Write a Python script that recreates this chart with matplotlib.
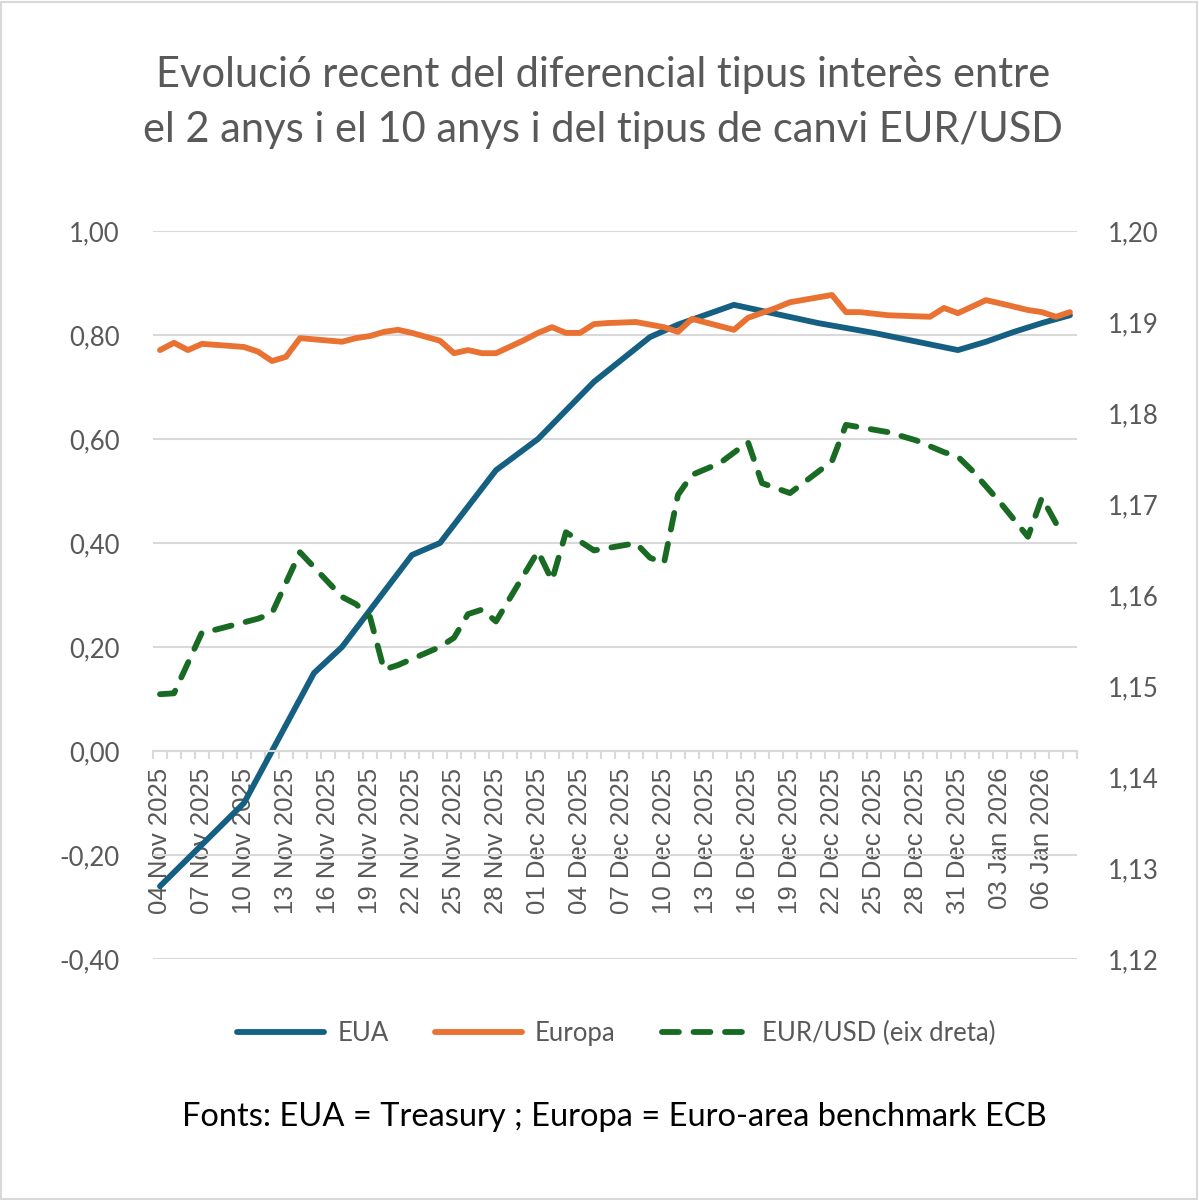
import matplotlib
matplotlib.use("Agg")
import matplotlib.pyplot as plt
import matplotlib.dates as mdates
import matplotlib.ticker as mticker
from matplotlib.patches import Rectangle
import pandas as pd

# data
eua_dates = ["2025-11-04", "2025-11-07", "2025-11-10", "2025-11-15", "2025-11-17",
             "2025-11-22", "2025-11-24", "2025-11-28", "2025-12-01", "2025-12-05",
             "2025-12-09", "2025-12-11", "2025-12-15", "2025-12-21", "2025-12-25",
             "2025-12-31", "2026-01-02", "2026-01-04", "2026-01-06", "2026-01-08"]
eua_vals = [-0.26, -0.18, -0.10, 0.15, 0.20,
            0.377, 0.40, 0.54, 0.60, 0.71,
            0.796, 0.82, 0.858, 0.823, 0.804,
            0.771, 0.787, 0.806, 0.823, 0.838]

eur_days = [0, 1, 2, 3, 6, 7, 8, 9, 10, 13, 14, 15, 16, 17, 18, 20, 21, 22, 23, 24,
            26, 27, 28, 29, 30, 31, 32, 34, 36, 37, 38, 41, 42, 44, 45, 48, 49, 50,
            52, 55, 56, 57, 59, 60, 62, 63, 64, 65]
eur_vals = [0.771, 0.785, 0.771, 0.783, 0.777, 0.768, 0.750, 0.758, 0.794, 0.787,
            0.794, 0.798, 0.806, 0.810, 0.804, 0.789, 0.765, 0.771, 0.765, 0.765,
            0.790, 0.804, 0.815, 0.804, 0.804, 0.821, 0.823, 0.825, 0.815, 0.806,
            0.831, 0.810, 0.833, 0.852, 0.863, 0.877, 0.844, 0.844,
            0.838, 0.835, 0.852, 0.842, 0.867, 0.861, 0.848, 0.844, 0.835, 0.844]

fx_days = [0, 1, 3, 4, 7, 8, 10, 13, 14, 15, 16, 17, 20, 21, 22, 23, 24, 27, 28, 29,
           31, 34, 35, 36, 37, 38, 40, 42, 43, 45, 48, 49, 52, 54, 56, 57, 58, 60,
           62, 63, 64]
fx_vals = [1.1491, 1.1492, 1.1559, 1.1562, 1.1574, 1.1580, 1.1647, 1.1598, 1.1590,
           1.1576, 1.1518, 1.1523, 1.1543, 1.1553, 1.1579, 1.1584, 1.1571, 1.1648,
           1.1616, 1.1669, 1.1649, 1.1657, 1.1641, 1.1635, 1.1710, 1.1732, 1.1745,
           1.1768, 1.1723, 1.1712, 1.1747, 1.1787, 1.1779, 1.1770, 1.1757, 1.1752,
           1.1737, 1.1702, 1.1664, 1.1707, 1.1679]

start = pd.Timestamp("2025-11-04")
end = pd.Timestamp("2026-01-08")

eua_x = pd.to_datetime(eua_dates)
eur_x = start + pd.to_timedelta(eur_days, unit="D")
fx_x = start + pd.to_timedelta(fx_days, unit="D")

BLUE = "#156082"
ORANGE = "#E97132"
GREEN = "#196B24"
GRAY = "#595959"
GRID = "#D9D9D9"

fig = plt.figure(figsize=(11.99, 12.0), dpi=100)
ax = fig.add_axes([0.1276, 0.2008, 0.7706, 0.6067])
ax2 = ax.twinx()

ax.plot(eua_x, eua_vals, color=BLUE, lw=4.2, solid_capstyle="round", label="EUA")
ax.plot(eur_x, eur_vals, color=ORANGE, lw=4.2, solid_capstyle="round", label="Europa")
ax2.plot(fx_x, fx_vals, color=GREEN, lw=4.2, linestyle=(0, (2.9, 2.5)),
         dash_capstyle="round", label="EUR/USD (eix dreta)")

half = pd.Timedelta(hours=12)
ax.set_xlim(start - half, end + half)
ax.set_ylim(-0.4, 1.0)
ax2.set_ylim(1.12, 1.20)

ax.set_yticks([-0.4, -0.2, 0.0, 0.2, 0.4, 0.6, 0.8, 1.0])
ax2.set_yticks([1.12, 1.13, 1.14, 1.15, 1.16, 1.17, 1.18, 1.19, 1.20])
ax.yaxis.set_major_formatter(mticker.FuncFormatter(lambda v, p: f"{v:.2f}".replace(".", ",").replace("-0,00", "0,00")))
ax2.yaxis.set_major_formatter(mticker.FuncFormatter(lambda v, p: f"{v:.2f}".replace(".", ",")))
ax.grid(axis="y", color=GRID, lw=1.5)
ax.set_axisbelow(True)

major = pd.date_range(start, end, freq="3D")
ax.xaxis.set_major_locator(mticker.FixedLocator(mdates.date2num(major)))
ax.xaxis.set_major_formatter(mdates.DateFormatter("%d %b %Y"))
minor = pd.date_range(start, end + pd.Timedelta(days=1), freq="D") - half
ax.xaxis.set_minor_locator(mticker.FixedLocator(mdates.date2num(minor)))

ax.spines["bottom"].set_position(("data", 0))
ax.spines["bottom"].set_color(GRID)
ax.spines["bottom"].set_linewidth(1.5)
for a in (ax, ax2):
    for s in ("top", "left", "right"):
        a.spines[s].set_visible(False)
ax2.spines["bottom"].set_visible(False)

ax.tick_params(axis="x", which="major", length=0, pad=12, labelsize=18.5,
               labelcolor=GRAY, labelrotation=90)
ax.tick_params(axis="x", which="minor", length=6, width=1.5, color=GRID, direction="out")
for lab in ax.get_xticklabels():
    lab.set_family("Liberation Sans")
ax.tick_params(axis="y", length=0, pad=24, labelsize=18.5, labelcolor=GRAY)
ax2.tick_params(axis="y", length=0, pad=22, labelsize=18.5, labelcolor=GRAY)
for lab in ax.get_yticklabels() + ax2.get_yticklabels():
    lab.set_family("Lato")

fig.text(0.503, 1 - 75 / 1200, "Evolució recent del diferencial tipus interès entre",
         ha="center", va="center", fontsize=30, color=GRAY, family="Lato")
fig.text(0.503, 1 - 130 / 1200, "el 2 anys i el 10 anys i del tipus de canvi EUR/USD",
         ha="center", va="center", fontsize=30, color=GRAY, family="Lato")

h1, l1 = ax.get_legend_handles_labels()
h2, l2 = ax2.get_legend_handles_labels()
fig.legend(h1 + h2, l1 + l2, loc="center", bbox_to_anchor=(0.514, 1 - 1033 / 1200),
           ncol=3, frameon=False, handlelength=3.4, handletextpad=0.5,
           columnspacing=1.8, prop={"family": "Lato", "size": 18.5}, labelcolor=GRAY)

fig.text(0.512, 1 - 1117 / 1200, "Fonts: EUA = Treasury ; Europa = Euro-area benchmark ECB",
         ha="center", va="center", fontsize=23.5, color="black", family="Lato")

fig.patches.append(Rectangle((0.001, 0.001), 0.997, 0.997, transform=fig.transFigure,
                             fill=False, edgecolor=GRID, lw=1.5))

fig.savefig("out.png", dpi=100, facecolor="white")
